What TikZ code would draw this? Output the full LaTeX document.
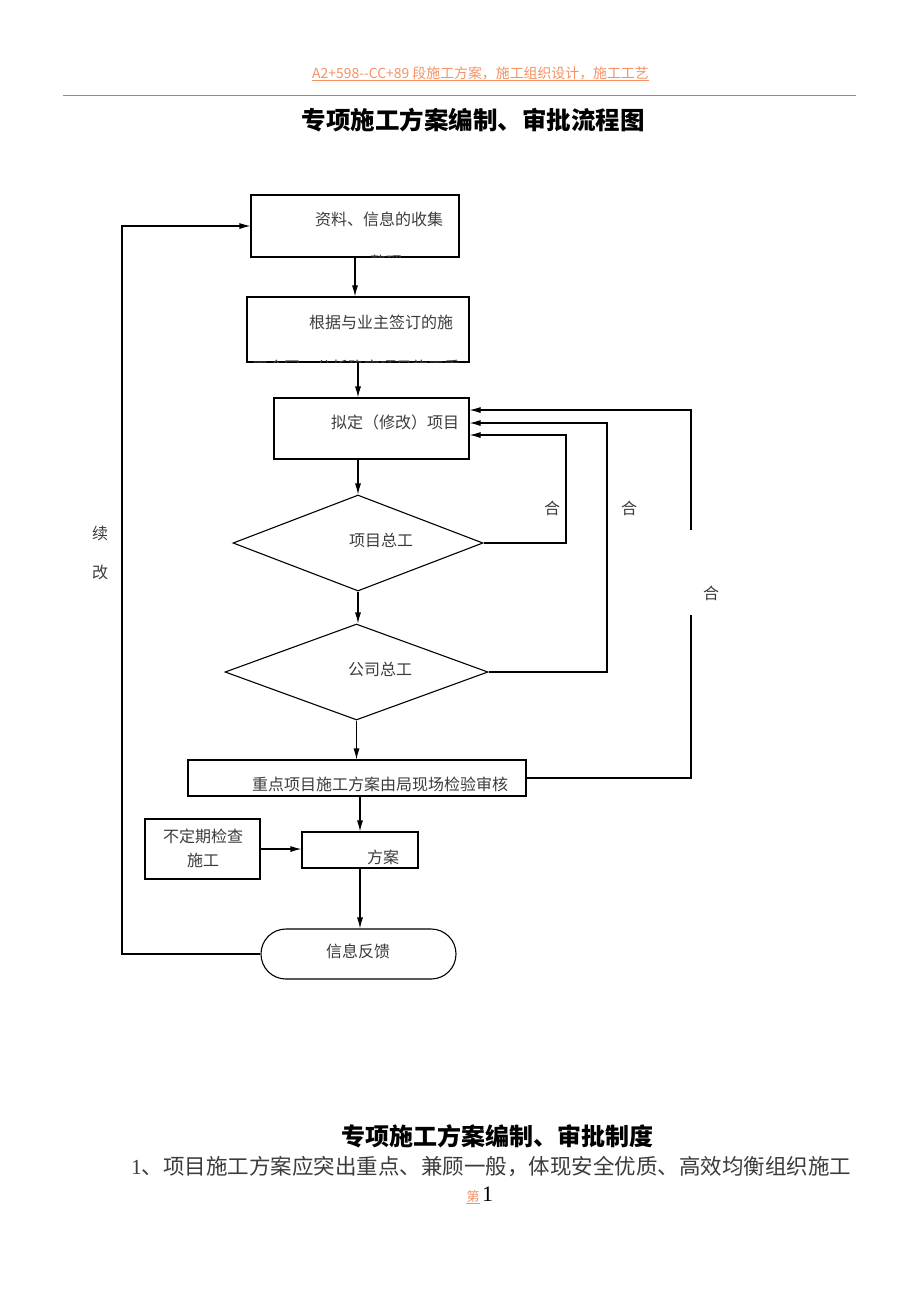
\documentclass[tikz,border=0pt]{standalone}
\usepackage{fontspec}
\setmainfont{Noto Sans CJK SC}
\newfontfamily\serifnum{Liberation Serif}
\usetikzlibrary{shapes.geometric,arrows.meta,calc}
\definecolor{hdr}{RGB}{245,145,100}
\definecolor{txt}{RGB}{60,60,60}
\definecolor{rulec}{RGB}{140,140,140}
\tikzset{
  fbox/.style={draw,line width=1.1pt,inner sep=0pt},
  arr/.style={line width=1.1pt,-{Latex[length=11pt,width=6pt]}},
  ln/.style={line width=1.1pt},
  lbl/.style={text=txt,font=\fontsize{16}{19}\selectfont,inner sep=0pt},
}
\begin{document}
\begin{tikzpicture}[x=1pt,y=-1pt]
\useasboundingbox[fill=white] (0,0) rectangle (920,1302);
% header
\node[inner sep=0pt,text=hdr,font=\fontsize{13.9}{16}\selectfont] (hd) at (480.5,73) {A2+598-{}-CC+89 段施工方案，施工组织设计，施工工艺};
\draw[hdr,line width=0.6pt] (hd.south west) -- (hd.south east);
\draw[rulec,line width=0.8pt] (63,95) -- (856,95);
% title
\node[inner sep=0pt,font=\fontsize{24.5}{28}\selectfont\bfseries] (title) at (473,120) {专项施工方案编制、审批流程图};

% shapes
\node[fbox,minimum width=208,minimum height=62] (b1) at (355,226) {};
\node[fbox,minimum width=222,minimum height=65] (b2) at (358,329.5) {};
\node[fbox,minimum width=195,minimum height=61] (b3) at (371.5,428.5) {};
\node[fbox,diamond,aspect=2.6,minimum width=250,minimum height=96] (d1) at (358,543) {};
\node[fbox,diamond,aspect=2.74,minimum width=263,minimum height=96] (d2) at (356.5,672) {};
\node[fbox,minimum width=338,minimum height=36] (b4) at (357,778) {};
\node[fbox,minimum width=116,minimum height=36] (b5) at (360,850) {};
\node[fbox,minimum width=115,minimum height=60] (b6) at (202.5,849) {};
\node[fbox,rectangle,rounded corners=24.9pt,minimum width=195,minimum height=50] (ov) at (358.5,954) {};

% texts
\node[lbl] (t1) at (379,219) {资料、信息的收集};
\begin{scope}
  \clip (b1.south west) rectangle (b1.north east);
  \node[lbl] (t1b) at (378,262) {、整理};
\end{scope}
\node[lbl] (t2) at (381,322) {根据与业主签订的施};
\begin{scope}
  \clip (b2.south west) rectangle (b2.north east);
  \node[lbl] (t2b) at (356,368) {工合同，分析确定项目施工重};
\end{scope}
\node[lbl] (t3) at (395,422) {拟定（修改）项目};
\node[lbl] (t4) at (381,540) {项目总工};
\node[lbl] (t5) at (380,669) {公司总工};
\node[lbl] (t6) at (380,784) {重点项目施工方案由局现场检验审核};
\node[lbl] (t7) at (383,857) {方案};
\node[lbl,align=center] (t8) at (203,848) {不定期检查\\[5pt]施工};
\node[lbl] (t9) at (358,951) {信息反馈};
\node[lbl] (h1) at (552,508) {合};
\node[lbl] (h2) at (629,508) {合};
\node[lbl] (h3) at (711,593) {合};
\node[lbl] (x1) at (100,533) {续};
\node[lbl] (x2) at (100,572) {改};

% main flow
\draw[arr] (b1.south) -- (b1.south |- b2.north);
\draw[arr] (b2.south) -- (b2.south |- b3.north);
\draw[arr] (d1.north |- b3.south) -- (d1.north);
\draw[arr] (d1.south) -- (d1.south |- d2.north);
\draw[arr] (d2.south) -- (d2.south |- b4.north);
\draw[arr] (b4.south -| b5.north) -- (b5.north);
\draw[arr] (b6.east) -- (b6.east -| b5.west);
\draw[arr] (b5.south) -- (b5.south |- ov.north);

% feedback loops
\coordinate (L) at (122,953);
\draw[arr] (ov.west) -- (ov.west -| L) |- (b1.west);
\coordinate (r1) at (566,435);
\coordinate (r2) at (607,423);
\coordinate (r3) at (691,410);
\draw[arr] (d1.east) -| (r1) -- (r1 -| b3.east);
\draw[arr] (d2.east) -| (r2) -- (r2 -| b3.east);
\draw[arr] (b4.east) -| (r3) -- (r3 -| b3.east);
\fill[white] (686,530) rectangle (696,615);

% bottom text
\node[inner sep=0pt,font=\fontsize{24}{28}\selectfont\bfseries] (st) at (497,1136) {专项施工方案编制、审批制度};
\node[inner sep=0pt,anchor=west,text=txt,font=\fontsize{21.5}{26}\selectfont] (line1) at (131,1166) {{\serifnum 1}、项目施工方案应突出重点、兼顾一般，体现安全优质、高效均衡组织施工};
\node[inner sep=0pt,text=hdr,font=\fontsize{13}{15}\selectfont] (pg) at (473,1197) {第};
\draw[hdr,line width=0.6pt] (pg.south west) -- (pg.south east);
\node[inner sep=0pt,anchor=west,font=\fontsize{22}{26}\selectfont\serifnum] (pn) at (482,1194) {1};
\end{tikzpicture}
\end{document}
